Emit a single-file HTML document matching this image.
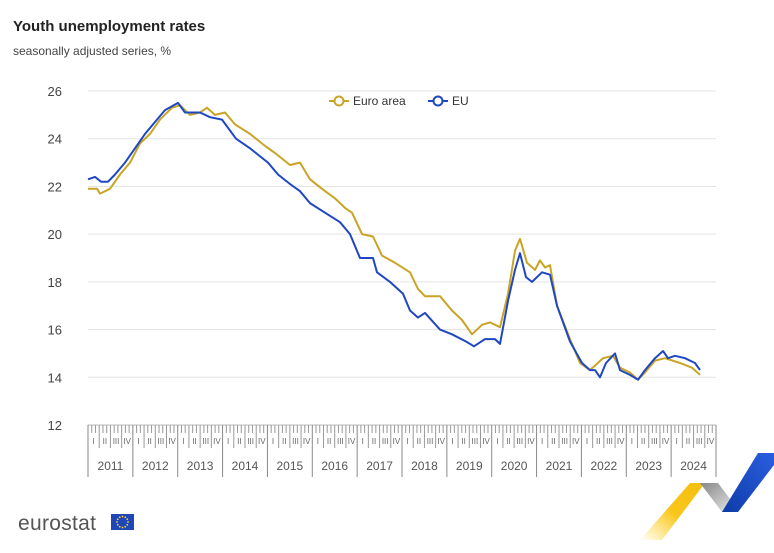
<!DOCTYPE html>
<html><head><meta charset="utf-8"><style>
body{margin:0;background:#fff;width:774px;height:548px;overflow:hidden;font-family:"Liberation Sans",sans-serif}
</style></head><body>
<svg id="s" width="774" height="548" xmlns="http://www.w3.org/2000/svg" font-family="Liberation Sans, sans-serif">
<text x="13" y="31" font-size="15" font-weight="bold" fill="#222">Youth unemployment rates</text>
<text x="13" y="55" font-size="12" fill="#444">seasonally adjusted series, %</text>
<g id="grid"></g>
<g id="axis"></g>
<g font-size="12" fill="#333">
<line x1="329" y1="101" x2="349" y2="101" stroke="#c9a425" stroke-width="2"/><circle cx="339" cy="101" r="4.5" fill="#fff" stroke="#c9a425" stroke-width="2"/>
<text x="353" y="105">Euro area</text>
<line x1="428" y1="101" x2="448" y2="101" stroke="#1f47c1" stroke-width="2"/><circle cx="438" cy="101" r="4.5" fill="#fff" stroke="#1f47c1" stroke-width="2"/>
<text x="452" y="105">EU</text>
</g>
<polyline id="ea" fill="none" stroke="#c9a425" stroke-width="2" stroke-linejoin="round"/>
<polyline id="eu" fill="none" stroke="#1f47c1" stroke-width="2" stroke-linejoin="round"/>
<defs>
<linearGradient id="gy" x1="0" y1="1" x2="1" y2="0"><stop offset="0" stop-color="#ffd21a" stop-opacity="0"/><stop offset="0.5" stop-color="#f8c51a"/><stop offset="1" stop-color="#f4bf10"/></linearGradient>
<linearGradient id="gg" x1="0" y1="0" x2="1" y2="1"><stop offset="0" stop-color="#888"/><stop offset="1" stop-color="#eee"/></linearGradient>
<linearGradient id="gb" x1="0" y1="1" x2="1" y2="0"><stop offset="0" stop-color="#0e3ca8"/><stop offset="1" stop-color="#2a5ee0"/></linearGradient>
</defs>
<polygon points="640,540 690,483 705,483 662,540" fill="url(#gy)"/>
<polygon points="700,483 718,483 740,512 722,512" fill="url(#gg)"/>
<polygon points="722,512 758,453 774,453 774,465 738,512" fill="url(#gb)"/>
<text x="18" y="530" font-size="21" fill="#555" letter-spacing="0.3">eurostat</text>
<rect x="111" y="514" width="23" height="16" fill="#1f47b8"/>
<g id="stars" fill="#ffd21a"></g>
</svg>
<script>
var NS="http://www.w3.org/2000/svg";
function el(p,t,a){var e=document.createElementNS(NS,t);for(var k in a)e.setAttribute(k,a[k]);p.appendChild(e);return e;}
var Y=function(v){return 91+(26-v)*23.857;};
var g=document.getElementById('grid');
for(var v=12;v<=26;v+=2){var y=Y(v);
 el(g,'line',{x1:88,x2:716,y1:y,y2:y,stroke:v==12?'#bbb':'#e3e3e3','stroke-width':1});
 var t=el(g,'text',{x:62,y:y+5,'font-size':13,fill:'#444','text-anchor':'end'});t.textContent=v;}
var a=document.getElementById('axis');var yw=44.857;
for(var m=0;m<=168;m++){var x=88+m*yw/12;var yr=m%12==0,q=m%3==0;
 el(a,'line',{x1:x,x2:x,y1:425,y2:yr?477:(q?448:433),stroke:yr?'#888':'#999','stroke-width':1});}
var ql=['I','II','III','IV'];
for(var i=0;i<14;i++){for(var k=0;k<4;k++){var t=el(a,'text',{x:88+i*yw+k*yw/4+yw/8,y:444,'font-size':8,fill:'#666','text-anchor':'middle'});t.textContent=ql[k];}
 var t=el(a,'text',{x:88+i*yw+yw/2,y:470,'font-size':12,fill:'#555','text-anchor':'middle'});t.textContent=2011+i;}
var ea=[[88,21.9],[97,21.9],[100,21.7],[110,21.9],[120,22.5],[130,23],[140,23.8],[150,24.2],[160,24.8],[172,25.3],[180,25.4],[190,25],[200,25.1],[207,25.3],[215,25],[225,25.1],[235,24.6],[250,24.2],[265,23.7],[275,23.4],[290,22.9],[300,23],[310,22.3],[322,21.9],[335,21.5],[345,21.1],[352,20.9],[362,20],[373,19.9],[382,19.1],[395,18.8],[410,18.4],[418,17.7],[425,17.4],[440,17.4],[452,16.8],[462,16.4],[472,15.8],[482,16.2],[490,16.3],[500,16.1],[508,17.5],[515,19.3],[520,19.8],[527,18.8],[535,18.5],[540,18.9],[545,18.6],[550,18.7],[557,17],[570,15.6],[580,14.6],[590,14.3],[603,14.8],[613,14.9],[620,14.4],[630,14.2],[638,13.9],[645,14.2],[655,14.7],[665,14.8],[680,14.6],[692,14.4],[700,14.1]];
var eu=[[88,22.3],[95,22.4],[101,22.2],[108,22.2],[115,22.5],[125,23],[135,23.6],[145,24.2],[155,24.7],[165,25.2],[178,25.5],[185,25.1],[200,25.1],[210,24.9],[222,24.8],[236,24],[250,23.6],[268,23],[278,22.5],[290,22.1],[300,21.8],[310,21.3],[325,20.9],[340,20.5],[350,20],[360,19],[373,19],[377,18.4],[390,18],[403,17.5],[410,16.8],[418,16.5],[425,16.7],[440,16],[452,15.8],[466,15.5],[474,15.3],[485,15.6],[495,15.6],[500,15.4],[508,17.2],[515,18.5],[520,19.2],[526,18.2],[532,18],[542,18.4],[550,18.3],[557,17],[570,15.5],[582,14.6],[590,14.3],[595,14.3],[600,14],[606,14.6],[615,15],[620,14.3],[630,14.1],[638,13.9],[645,14.3],[655,14.8],[663,15.1],[668,14.8],[675,14.9],[685,14.8],[690,14.7],[695,14.6],[700,14.3]];
function pts(d){return d.map(function(p){return p[0]+','+Y(p[1]).toFixed(1);}).join(' ');}
document.getElementById('ea').setAttribute('points',pts(ea));
document.getElementById('eu').setAttribute('points',pts(eu));
var st=document.getElementById('stars');
for(var i=0;i<12;i++){var an=i*Math.PI/6;el(st,'circle',{cx:122.5+5.5*Math.cos(an),cy:522+5.5*Math.sin(an),r:0.9});}
</script>
</body></html>
